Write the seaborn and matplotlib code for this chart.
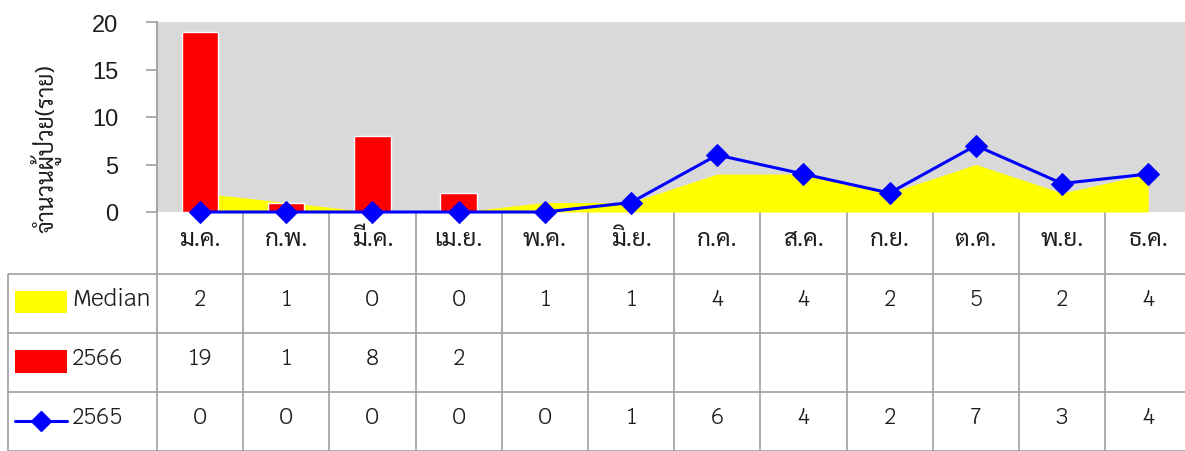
import numpy as np
import pandas as pd
import matplotlib
matplotlib.use("Agg")
import matplotlib.pyplot as plt
from matplotlib.patches import Rectangle
from matplotlib.lines import Line2D
import seaborn as sns

# %% data

months = ["ม.ค.", "ก.พ.", "มี.ค.", "เม.ย.", "พ.ค.", "มิ.ย.",
          "ก.ค.", "ส.ค.", "ก.ย.", "ต.ค.", "พ.ย.", "ธ.ค."]
median = [2, 1, 0, 0, 1, 1, 4, 4, 2, 5, 2, 4]
y2566 = [19, 1, 8, 2, np.nan, np.nan, np.nan, np.nan, np.nan, np.nan, np.nan, np.nan]
y2565 = [0, 0, 0, 0, 0, 1, 6, 4, 2, 7, 3, 4]
series_names = ["Median", "2566", "2565"]
ylabel = "จำนวนผู้ป่วย(ราย)"

df = pd.DataFrame({"month": months, "pos": np.arange(len(months)),
                   "median": median, "y2566": y2566, "y2565": y2565})

# %% style

sns.set_style("white")
latin = ["Krub", "DejaVu Sans"]
thai_font = ["Sarabun", "DejaVu Sans"]
plt.rcParams["font.family"] = latin

YELLOW = "#FFFF00"
RED = "#FF0000"
BLUE = "#0000FF"
GRID = "#A0A0A0"
TXT = "#1E1E1E"

W, H = 1185, 452
x0, colw = 156.9, 86.2
y_top, y_axis = 23, 213
row_lines = [274.5, 333.5, 392.5, 451.5]

fig = plt.figure(figsize=(W / 100, H / 100), dpi=100)

# table layer in pixel coordinates
tab = fig.add_axes([0, 0, 1, 1], zorder=0)
tab.set_xlim(0, W)
tab.set_ylim(H, 0)
tab.axis("off")

# %% chart

ax = fig.add_axes([x0 / W, 1 - y_axis / H, 12 * colw / W, (y_axis - y_top) / H], zorder=1)
ax.set_facecolor("#D9D9D9")

ax.fill_between(df["pos"], df["median"], color=YELLOW, lw=0, zorder=1)
sns.barplot(data=df, x="pos", y="y2566", color=RED, saturation=1, width=0.42,
            ax=ax, zorder=2)
sns.lineplot(data=df, x="pos", y="y2565", color=BLUE, lw=2.2, marker="D",
             markersize=11, markeredgecolor=BLUE, ax=ax, zorder=3, clip_on=False)

ax.set_xlim(-0.5, 11.5)
ax.set_ylim(0, 20)
ax.set_yticks([0, 5, 10, 15, 20])
ax.set_xticks([])
ax.set_xlabel("")
ax.set_ylabel("")
for s in ["top", "right", "bottom"]:
    ax.spines[s].set_visible(False)
ax.spines["left"].set_color(GRID)
ax.spines["left"].set_linewidth(1.2)
ax.tick_params(axis="y", direction="out", length=8, width=1.2, color=GRID,
               pad=20, labelsize=17, left=True)
for lab in ax.get_yticklabels():
    lab.set_family(["Liberation Sans", "DejaVu Sans"])
    lab.set_color(TXT)

fig.text(46 / W, 1 - 149 / H, ylabel, rotation=90, ha="center", va="center",
         fontsize=16.5, color=TXT, family=thai_font)

# %% data table

lk = dict(color=GRID, lw=1.2, solid_capstyle="butt")
for y in row_lines:
    tab.plot([7.5, W], [y, y], **lk)
tab.plot([7.5, 7.5], [row_lines[0], row_lines[-1]], **lk)
tab.plot([x0, x0], [y_top, row_lines[-1]], **lk)
for k in range(1, 13):
    tab.plot([x0 + k * colw, x0 + k * colw], [y_axis, row_lines[-1]], **lk)

centers = [x0 + (i + 0.5) * colw for i in range(len(months))]
for cx, m in zip(centers, months):
    tab.text(cx, 240, m, ha="center", va="center", fontsize=17.5, color=TXT,
             family=thai_font)

rows = [median, y2566, y2565]
row_y = [300, 359, 418]
for vals, ry in zip(rows, row_y):
    for cx, v in zip(centers, vals):
        if not np.isnan(v):
            tab.text(cx, ry, str(int(v)), ha="center", va="center",
                     fontsize=16.5, color=TXT)

# legend keys in the table
tab.add_patch(Rectangle((15, 292), 52, 22, color=YELLOW, lw=0))
tab.add_patch(Rectangle((15, 351), 52, 23, color=RED, lw=0))
tab.add_line(Line2D([15, 67], [422, 422], color=BLUE, lw=2.2))
tab.plot([41], [422], marker="D", color=BLUE, markersize=10)
for name, ry in zip(series_names, row_y):
    tab.text(72, ry, name, ha="left", va="center", fontsize=16.5, color=TXT)

fig.savefig("out.png", dpi=100)
